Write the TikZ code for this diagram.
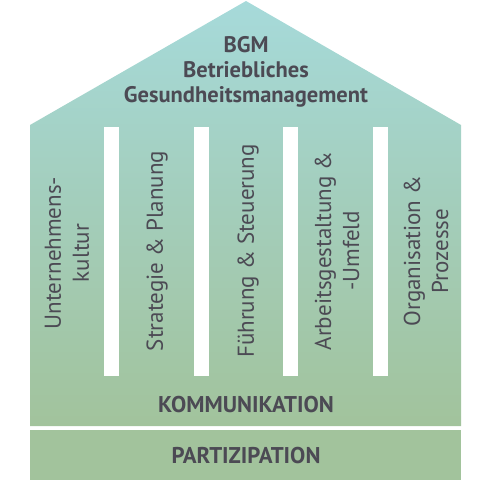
\documentclass[tikz,border=0pt]{standalone}
\usepackage{fontspec}
\setmainfont{PT Sans}
\begin{document}
\begin{tikzpicture}[x=1pt,y=-1pt,
  txt/.style={text=txtgray, inner sep=0pt, align=center},
  titletxt/.style={txt, font=\bfseries\fontsize{22.5}{25}\selectfont},
  coltxt/.style={txt, rotate=90, font=\fontsize{23}{28}\selectfont},
  bartxt/.style={txt, font=\bfseries\fontsize{22.8}{24}\selectfont},
  pillar/.style={fill=white, draw=none}]
\definecolor{txtgray}{HTML}{4C4A54}
\definecolor{roofcyan}{HTML}{A6DADA}
\definecolor{midcol}{HTML}{A3CDBA}
\definecolor{basegreen}{HTML}{A2C39C}
\useasboundingbox (0,0) rectangle (494,482);
% house body
\shade[top color=roofcyan, bottom color=basegreen, middle color=midcol]
  (30,125) -- (246,1) -- (461,125) -- (461,426) -- (30,426) -- cycle;
% base band
\fill[basegreen] (30,430) rectangle (461,480);
% pillars
\foreach \x in {104,194,283,373} {
  \fill[pillar] (\x,127) rectangle ++(15,249);
}
% title
\node[titletxt] (title) at (246,72) {BGM\\Betriebliches\\Gesundheitsmanagement};
% columns
\node[coltxt] (c1) at (67,253) {Unternehmens-\\kultur};
\node[coltxt] (c2) at (157,251) {Strategie \& Planung};
\node[coltxt] (c3) at (248,251) {Führung \& Steuerung};
\node[coltxt] (c4) at (337,251) {Arbeitsgestaltung \&\\-Umfeld};
\node[coltxt] (c5) at (426,251) {Organisation \&\\Prozesse};
% bands
\node[bartxt] (komm) at (246,405) {KOMMUNIKATION};
\node[bartxt] (part) at (246,456) {PARTIZIPATION};
\end{tikzpicture}
\end{document}
